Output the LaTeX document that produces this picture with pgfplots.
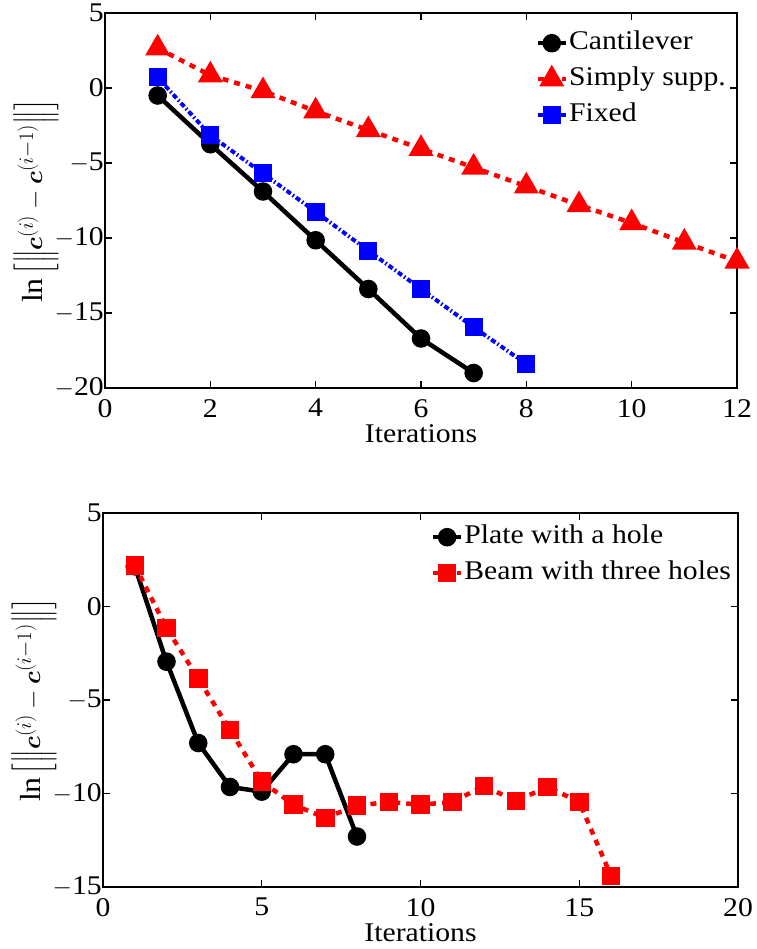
\documentclass[border=0pt]{standalone}
\usepackage{amsmath}
\usepackage{bm}
\usepackage{fontspec}
\setmainfont{Liberation Serif}[FakeStretch=1.1]
\usepackage{pgfplots}
\pgfplotsset{compat=1.18}
\newcommand{\tfont}{\fontsize{27}{30}\selectfont}
\pgfplotsset{
  mstyle/.style={
    scale only axis,
    anchor=north west,
    axis line style={line width=1.1pt},
    every tick/.style={line width=1.1pt, black},
    tick align=inside,
    major tick length=7pt,
    tick label style={font=\tfont},
    /pgf/number format/assume math mode=true,
    xticklabel style={inner sep=0pt, yshift=-11pt},
    yticklabel style={inner xsep=1pt},
    every axis x label/.style={at={(rel axis cs:0.5,0)}, anchor=north, yshift=-36pt, inner sep=0pt, font=\tfont},
    every axis y label/.style={at={(rel axis cs:0,0.5)}, anchor=center, inner sep=0pt, xshift=-69pt, rotate=90, font=\fontsize{29}{30}\selectfont},
    xlabel={Iterations},
    legend cell align=left,
    legend style={draw=none, fill=none, font=\tfont, row sep=8pt, inner sep=0pt,
      nodes={inner sep=1pt, text height=19pt, text depth=7pt}},
    legend image code/.code={\draw[mark repeat=2,mark phase=2] plot coordinates {(0pt,0pt)(14pt,0pt)(28pt,0pt)};},
  },
  blk/.style={black, line width=4.5pt, mark=*, mark size=7pt, mark options={solid}},
  redtri/.style={red, line width=4.5pt, dash pattern=on 6pt off 6pt, mark=triangle*, mark size=10pt, mark options={solid}},
  bluesq/.style={blue, line width=4pt, dash pattern=on 5pt off 2.5pt on 1.5pt off 2.5pt, mark=square*, mark size=7pt, mark options={solid}},
  redsq/.style={red, line width=4.5pt, dash pattern=on 6pt off 6pt, mark=square*, mark size=7pt, mark options={solid}},
}
\begin{document}
\begin{tikzpicture}
\useasboundingbox (0,0) rectangle (756pt,-949pt);
\begin{axis}[mstyle,
  at={(105pt,-13pt)}, width=632pt, height=375pt,
  xmin=0, xmax=12, ymin=-20, ymax=5,
  xtick={0,2,4,6,8,10,12},
  ytick={-20,-15,-10,-5,0,5},
  yticklabels={$-$20,$-$15,$-$10,$-$5,0,5},
  ylabel={$\ln\left[\left\|\bm{c}^{(i)}-\bm{c}^{(i-1)}\right\|\right]$},
  legend style={at={(1,1)}, anchor=north east, xshift=-10pt, yshift=-16pt},
]
\addplot[blk] coordinates {(1,-0.5) (2,-3.75) (3,-6.9) (4,-10.15) (5,-13.4) (6,-16.7) (7,-19.0)};
\addlegendentry{Cantilever}
\addplot[redtri] coordinates {(1,2.65) (2,0.85) (3,-0.2) (4,-1.55) (5,-2.8) (6,-4.05) (7,-5.3) (8,-6.55) (9,-7.8) (10,-9.0) (11,-10.3) (12,-11.55)};
\addlegendentry{Simply supp.}
\addplot[bluesq] coordinates {(1,0.7) (2,-3.15) (3,-5.7) (4,-8.25) (5,-10.85) (6,-13.4) (7,-15.95) (8,-18.4)};
\addlegendentry{Fixed}
\end{axis}
\begin{axis}[mstyle,
  at={(103pt,-513pt)}, width=635pt, height=374pt,
  xmin=0, xmax=20, ymin=-15, ymax=5,
  xtick={0,5,10,15,20},
  ytick={-15,-10,-5,0,5},
  yticklabels={$-$15,$-$10,$-$5,0,5},
  ylabel={$\ln\left[\left\|\bm{c}^{(i)}-\bm{c}^{(i-1)}\right\|\right]$},
  legend style={at={(1,1)}, anchor=north east, xshift=-6pt, yshift=-10pt},
]
\addplot[blk] coordinates {(1,2.15) (2,-2.95) (3,-7.3) (4,-9.65) (5,-9.9) (6,-7.9) (7,-7.9) (8,-12.3)};
\addlegendentry{Plate with a hole}
\addplot[redsq] coordinates {(1,2.2) (2,-1.15) (3,-3.85) (4,-6.6) (5,-9.35) (6,-10.6) (7,-11.3) (8,-10.65) (9,-10.45) (10,-10.6) (11,-10.45) (12,-9.6) (13,-10.4) (14,-9.65) (15,-10.45) (16,-14.4)};
\addlegendentry{Beam with three holes}
\end{axis}
\end{tikzpicture}
\end{document}
